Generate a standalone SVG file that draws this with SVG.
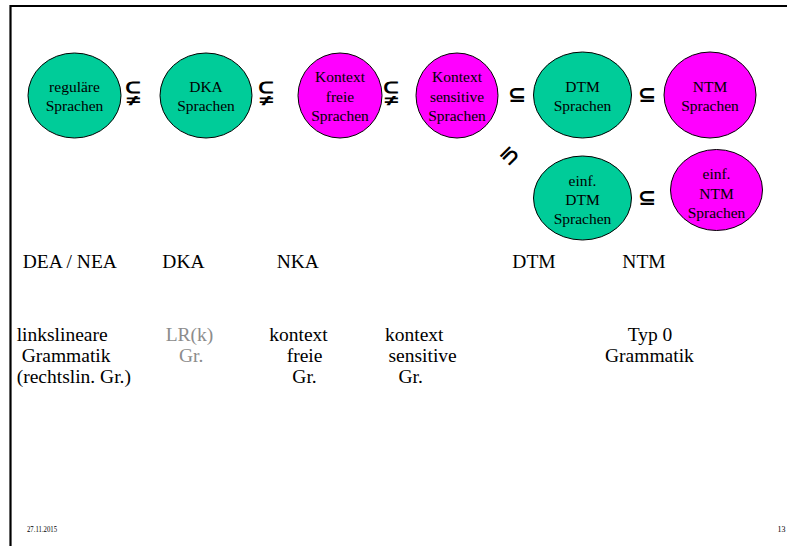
<svg xmlns="http://www.w3.org/2000/svg" width="787" height="546" viewBox="0 0 787 546">
<style>
.g{fill:#00CC99;stroke:#000;stroke-width:1}
.m{fill:#FF00FF;stroke:#000;stroke-width:1}
.t{font-family:"Liberation Serif","Times New Roman",serif;font-size:15.5px;text-anchor:middle;fill:#000}
.l{font-family:"Liberation Serif","Times New Roman",serif;font-size:19.5px;fill:#000}
.gr{fill:#8c8c8c}
.s{font-family:"DejaVu Sans","DejaVu Math TeX Gyre",sans-serif;font-size:22px;font-weight:bold;text-anchor:middle;fill:#000}
.n{font-family:"DejaVu Sans","DejaVu Math TeX Gyre",sans-serif;font-size:32px;font-weight:bold;text-anchor:middle;fill:#000}
.f{font-family:"Liberation Serif","Times New Roman",serif;font-size:8px;fill:#000}
</style>
<rect width="787" height="546" fill="#fff"/>
<path d="M10.5,546 V6 H787" fill="none" stroke="#000" stroke-width="2.2"/>

<g id="reg"><ellipse class="g" cx="74.5" cy="95.5" rx="46.5" ry="42.5"/><text class="t" x="74.5" y="92">reguläre</text><text class="t" x="74.5" y="111">Sprachen</text></g>
<g id="dka"><ellipse class="g" cx="206" cy="95.5" rx="46" ry="42.5"/><text class="t" x="206" y="92">DKA</text><text class="t" x="206" y="111">Sprachen</text></g>
<g id="cf"><ellipse class="m" cx="340" cy="95.5" rx="42" ry="42.5"/><text class="t" x="340" y="82">Kontext</text><text class="t" x="340" y="101.5">freie</text><text class="t" x="340" y="120.5">Sprachen</text></g>
<g id="cs"><ellipse class="m" cx="457" cy="95.5" rx="41" ry="42.5"/><text class="t" x="457" y="82">Kontext</text><text class="t" x="457" y="101.5">sensitive</text><text class="t" x="457" y="120.5">Sprachen</text></g>
<g id="dtm"><ellipse class="g" cx="582.5" cy="95" rx="49" ry="43"/><text class="t" x="582.5" y="92">DTM</text><text class="t" x="582.5" y="111">Sprachen</text></g>
<g id="ntm"><ellipse class="m" cx="710" cy="95" rx="46" ry="43"/><text class="t" x="710" y="92">NTM</text><text class="t" x="710" y="111">Sprachen</text></g>
<g id="edtm"><ellipse class="g" cx="582.5" cy="198" rx="49" ry="42"/><text class="t" x="582.5" y="185.5">einf.</text><text class="t" x="582.5" y="205">DTM</text><text class="t" x="582.5" y="223.5">Sprachen</text></g>
<g id="entm"><ellipse class="m" cx="716.5" cy="190" rx="46" ry="40.5"/><text class="t" x="716.5" y="179">einf.</text><text class="t" x="716.5" y="198.5">NTM</text><text class="t" x="716.5" y="217.5">Sprachen</text></g>

<g id="connectors">
<text class="n" x="132.5" y="103">⫋</text>
<text class="n" x="265.5" y="103">⫋</text>
<text class="n" x="391" y="103">⫋</text>
<text class="s" x="517" y="102">⊆</text>
<text class="s" x="647" y="102">⊆</text>
<text class="s" x="647" y="205">⊆</text>
<text class="s" transform="translate(509,155) rotate(135)" x="0" y="6">⊆</text>
</g>

<g id="labels">
<text class="l" x="22.7" y="268">DEA / NEA</text>
<text class="l" x="162.3" y="268">DKA</text>
<text class="l" x="276.7" y="268">NKA</text>
<text class="l" x="512.3" y="268">DTM</text>
<text class="l" x="622.3" y="268">NTM</text>
<text class="l" x="16.7" y="341">linkslineare</text>
<text class="l" x="21.7" y="362">Grammatik</text>
<text class="l" x="16.7" y="383">(rechtslin. Gr.)</text>
<text class="l gr" x="165.7" y="341">LR(k)</text>
<text class="l gr" x="179" y="362">Gr.</text>
<text class="l" x="269.3" y="341">kontext</text>
<text class="l" x="286.7" y="362">freie</text>
<text class="l" x="292.3" y="383">Gr.</text>
<text class="l" x="385" y="341">kontext</text>
<text class="l" x="388.5" y="362">sensitive</text>
<text class="l" x="398.5" y="383">Gr.</text>
<text class="l" x="627.7" y="341">Typ 0</text>
<text class="l" x="605" y="362">Grammatik</text>
<text class="f" x="27" y="532" textLength="30" lengthAdjust="spacingAndGlyphs">27.11.2015</text>
<text class="f" x="777.5" y="532">13</text>
</g>
</svg>
